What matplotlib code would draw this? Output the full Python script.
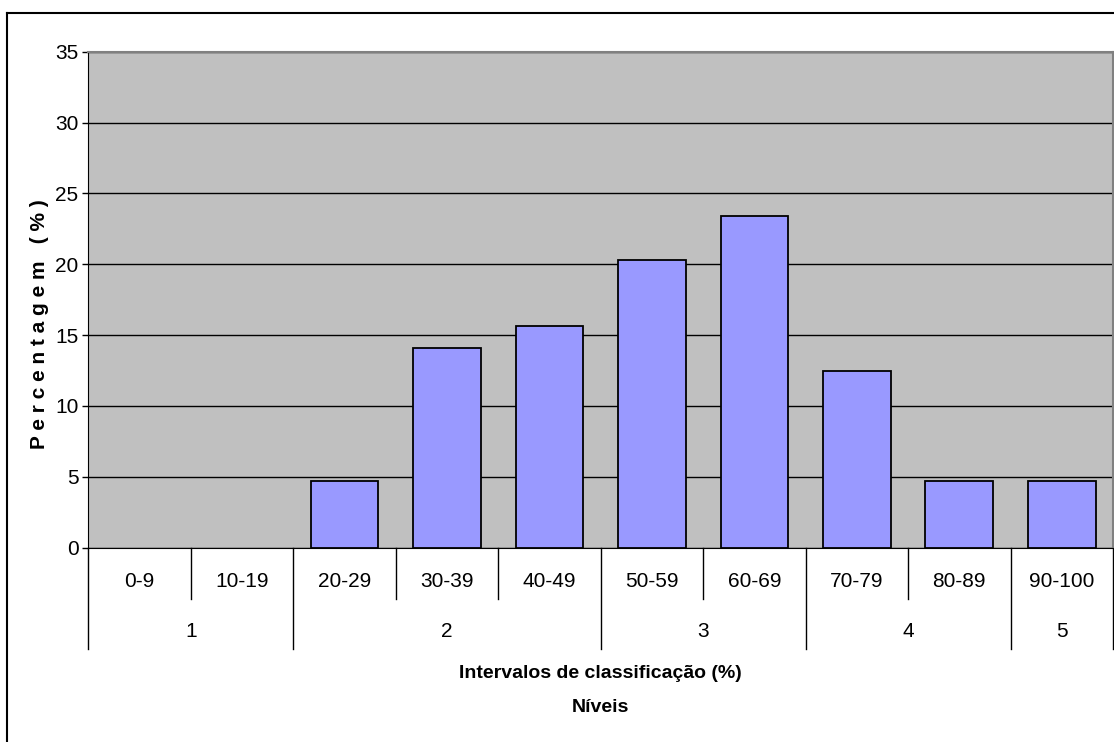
import numpy as np
import matplotlib
matplotlib.use('Agg')
import matplotlib.pyplot as plt
from matplotlib.lines import Line2D

#font: narrow Arial look-alike, with fallbacks

plt.rcParams['font.family'] = ['Liberation Sans Narrow', 'Liberation Sans', 'DejaVu Sans']

#classification intervals and percentage of students in each

intervals = ['0-9', '10-19', '20-29', '30-39', '40-49',
             '50-59', '60-69', '70-79', '80-89', '90-100']

percent = [0, 0, 4.69, 14.06, 15.63, 20.31, 23.44, 12.5, 4.69, 4.69]

#levels and how many intervals each one groups

levels = ['1', '2', '3', '4', '5']

level_sizes = [2, 3, 2, 2, 1]

#y axis ticks

yticks = np.arange(0, 40, 5)

#define the figure (pixel size 1114 x 742)

W, H = 1114, 742

fig = plt.figure(figsize = (W / 100, H / 100), dpi = 100)

#plot area position in pixels

left, right, top, bottom = 88.3, 1113, 51.7, 547.7

ax = fig.add_axes([left / W, 1 - bottom / H, (right - left) / W, (bottom - top) / H])

ax.set_facecolor('#C0C0C0')

x = np.arange(len(intervals))

#bars (empty intervals get no outline)

edges_c = ['black' if p > 0 else 'none' for p in percent]

ax.bar(x, percent, width = 0.66, color = '#9999FF', edgecolor = edges_c, linewidth = 1.3, zorder = 3)

ax.set_xlim(-0.5, len(intervals) - 0.5)

ax.set_ylim(0, 35)

#horizontal grid lines

ax.set_yticks(yticks)

ax.yaxis.grid(True, color = 'black', linewidth = 1.0)

ax.set_axisbelow(True)

ax.tick_params(axis = 'y', direction = 'out', length = 4, width = 1, pad = 3, labelsize = 15)

ax.set_xticks([])

#spines

ax.spines['left'].set_color('black')

ax.spines['bottom'].set_color('black')

ax.spines['top'].set_color('#808080')

ax.spines['right'].set_color('#808080')

for s in ['top', 'right']:

    ax.spines[s].set_linewidth(1.5)

#two level category axis drawn below the plot

ph = bottom - top

def ypix(p):

    #pixel offset below the axis -> axes fraction

    return -p / ph

trans = ax.get_xaxis_transform()

for i, lab in enumerate(intervals):

    ax.text(i, ypix(34), lab, transform = trans, ha = 'center', va = 'center', fontsize = 15)

#boundaries between groups go deeper than the ones inside a group

edges = np.cumsum([0] + level_sizes)

for b in range(len(intervals) + 1):

    depth = 101.3 if b in edges else 51.6

    ax.add_line(Line2D([b - 0.5, b - 0.5], [0, ypix(depth)], transform = trans,
                       color = 'black', linewidth = 1, clip_on = False))

for k, lab in enumerate(levels):

    xc = (edges[k] + edges[k + 1]) / 2 - 0.5

    ax.text(xc, ypix(84), lab, transform = trans, ha = 'center', va = 'center', fontsize = 15)

#axis titles

xc = (left + right) / 2 / W

fig.text(xc, 1 - 673 / H, 'Intervalos de classificação (%)', ha = 'center', va = 'center',
         fontsize = 14, fontweight = 'bold')

fig.text(xc, 1 - 707 / H, 'Níveis', ha = 'center', va = 'center', fontsize = 14, fontweight = 'bold')

fig.text(40 / W, 1 - 324 / H, 'P e r c e n t a g e m   ( % )', rotation = 90, ha = 'center', va = 'center',
         fontsize = 15, fontweight = 'bold')

#outer chart border (left and top edges)

fig.add_artist(Line2D([7 / W, 7 / W], [0, 1 - 12.7 / H], transform = fig.transFigure, color = 'black', linewidth = 1.5))

fig.add_artist(Line2D([7 / W, 1], [1 - 12.7 / H, 1 - 12.7 / H], transform = fig.transFigure, color = 'black', linewidth = 1.5))

plt.savefig('out.png', dpi = 100)
